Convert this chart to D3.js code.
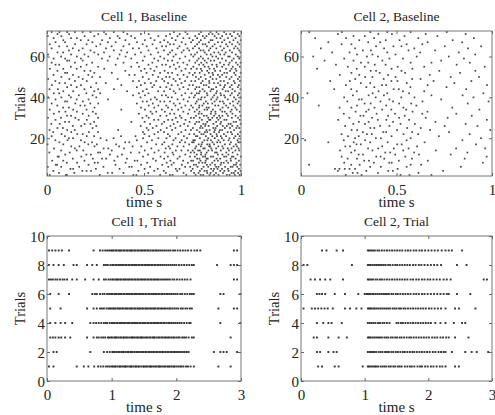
<!DOCTYPE html>
<html>
<head>
<meta charset="utf-8">
<script src="https://cdn.jsdelivr.net/npm/d3@7"></script>
<style>
  body { margin: 0; background: #fff; }
  text { font-family: "Liberation Serif", "Times New Roman", Times, serif; fill: #222; }
</style>
</head>
<body>
<svg id="chart" width="495" height="415"></svg>
<script>
// spike times, one string per trial
// baseline cells in ms, trial cells in units of 0.01 s
var cell1Baseline = [
    "14 97 103 272 445 461 583 634 647 718 766 792 805 838 861 884 927 941 968 993",
    "62 141 313 336 394 522 613 704 758 781 826 843 871 907 952 963 985",
    "33 182 204 227 471 553 602 671 743 788 812 824 857 893 914 936 971 998",
    "121 135 252 374 503 571 664 683 751 797 846 861 879 902 933 989",
    "4 73 166 291 424 437 532 625 712 738 776 807 831 872 884 918 947 956 981",
    "45 52 214 353 485 594 642 695 757 769 824 842 866 895 963 974 996",
    "102 155 246 262 405 516 617 653 726 783 801 815 852 898 911 934 977",
    "27 84 193 347 452 466 561 636 702 743 753 791 818 863 881 925 948 989",
    "133 236 284 305 412 547 604 673 774 786 822 829 874 893 946 972",
    "55 61 177 364 495 585 623 684 737 762 804 815 845 856 913 924 953 961 999",
    "94 203 226 324 386 521 652 713 772 794 817 881 904 935 982",
    "12 117 263 274 432 476 554 606 647 741 759 795 823 866 875 924 957",
    "73 153 187 334 504 575 664 693 727 751 779 788 832 851 896 938 971 991",
    "36 144 292 316 397 538 612 634 764 806 813 847 872 909 932 951 987",
    "125 167 245 372 441 486 627 672 704 769 793 836 841 883 904 962 979",
    "3 84 213 257 356 563 594 646 733 782 797 826 838 861 917 942 973",
    "64 194 232 403 424 516 605 685 712 748 756 801 853 877 893 948 986 995",
    "43 106 175 307 463 541 652 694 754 762 811 827 845 884 911 936 982",
    "113 134 276 343 495 574 616 663 722 788 831 865 902 941 964",
    "24 92 205 243 382 456 527 633 706 767 775 819 852 876 896 923 971 993",
    "75 156 184 502 554 623 677 734 758 796 807 843 874 912 954 984",
    "32 125 216 263 495 572 603 692 786 814 826 862 887 931 948 996",
    "13 104 143 367 523 586 645 714 742 773 822 838 865 891 903 964",
    "54 82 235 514 545 617 662 752 789 802 857 869 917 943 976 991",
    "133 176 254 483 564 636 687 726 794 815 833 877 906 927 955 982",
    "22 65 194 224 531 592 653 707 763 806 818 858 894 936 947 998",
    "93 114 243 435 503 604 673 735 771 784 826 872 897 962 975",
    "44 163 205 552 574 624 646 714 798 836 842 883 914 925 994",
    "5 72 146 263 492 524 664 693 742 757 787 831 852 876 893 953 985",
    "103 124 215 513 584 616 685 768 809 823 861 887 904 933 972 997",
    "35 184 252 474 543 634 656 727 782 797 844 869 926 956",
    "62 95 154 236 534 563 607 703 761 786 847 868 903 916 946 993",
    "14 135 204 383 505 592 644 676 734 773 812 826 855 893 952 978",
    "83 113 245 484 553 624 693 752 784 823 834 905 934 971",
    "53 172 195 524 574 615 662 713 743 785 801 867 883 924 961 996",
    "24 146 223 264 463 545 653 684 766 808 829 852 912 944 982",
    "93 104 185 493 515 584 605 634 726 772 819 864 891 906 958 989",
    "44 153 214 314 535 566 673 704 781 793 846 874 932 973",
    "6 74 123 254 482 556 624 643 734 757 797 813 854 879 918 964 997",
    "113 164 235 443 505 592 613 694 763 827 862 897 913 945 984",
    "35 63 203 274 474 523 662 713 745 772 783 824 872 894 953 991",
    "84 135 244 413 494 573 604 653 788 812 843 876 921 934 968",
    "13 56 193 264 345 514 634 683 727 764 802 848 857 905 956 997",
    "104 153 226 463 543 584 615 703 771 785 834 872 913 943 984",
    "25 124 175 383 484 552 643 674 734 752 808 821 893 917 952 989",
    "64 93 254 303 504 535 624 693 794 837 861 882 932 968",
    "43 144 205 443 474 563 604 663 712 744 764 802 836 895 912 963 995",
    "6 115 184 364 524 594 652 684 782 818 854 873 941 984",
    "74 163 233 273 494 573 614 632 723 768 793 842 891 924 951 992",
    "34 134 213 424 452 545 673 704 752 813 856 881 903 972",
    "93 104 244 334 513 583 624 645 734 762 787 834 853 914 928 965 998",
    "54 193 224 404 485 553 606 693 798 826 867 893 944 976",
    "15 84 153 295 503 534 664 714 743 772 793 838 861 923 951 972",
    "123 174 263 434 474 565 634 682 754 813 832 876 903 958 994",
    "44 63 204 354 523 594 613 654 723 784 806 851 874 912 936 983",
    "24 144 233 394 465 543 673 703 764 795 823 892 941 974 998",
    "104 115 184 313 494 573 623 645 734 774 813 844 862 922 953",
    "34 94 175 283 364 434 553 604 684 782 804 831 882 903 962 991",
    "73 154 213 323 405 503 584 652 713 754 793 853 872 934 942 983",
    "5 124 193 264 374 454 535 624 664 743 762 823 844 893 914 973",
    "54 83 244 294 413 484 573 634 694 774 813 862 884 921 954 997",
    "113 164 224 344 383 523 603 645 704 733 792 806 834 903 942 991",
    "24 133 184 304 443 474 564 673 724 752 784 842 873 912 964 983",
    "63 104 254 333 394 514 593 614 683 763 824 853 894 931 972",
    "14 145 204 275 424 493 544 634 653 714 774 803 816 864 923 954 992",
    "44 93 234 314 354 464 584 623 694 743 784 834 881 902 942 983",
    "84 174 213 284 404 504 554 604 663 752 793 844 853 914 961 998",
    "34 124 154 324 374 453 534 644 703 734 774 813 874 894 933 972",
    "4 74 194 244 364 434 574 614 673 764 803 822 864 903 953 991",
    "54 114 264 304 414 484 524 634 684 724 784 834 853 884 924 944 983",
    "24 64 104 144 184 224 294 344 394 654 714 794 843 874 913 964"
];

var cell2Baseline = [
    "234 317 521 568 683",
    "271 296 403 615",
    "193 342 457 481 744",
    "178 201 229 254 283 506",
    "362 418 553 837",
    "42 263 307 574 629",
    "226 381 462 475 952",
    "331 356 512 664",
    "244 293 436 581 857",
    "213 394 417 546 972",
    "302 325 493 618 784",
    "263 441 467 592 871",
    "204 282 374 535 706",
    "351 404 486 563 812 964",
    "232 257 425 608",
    "291 313 504 527 916",
    "143 276 362 454 647",
    "22 224 336 553 845",
    "283 392 418 574 942",
    "246 302 474 722",
    "212 345 371 537 614 883",
    "324 431 446 582 775",
    "265 294 503 676 991",
    "363 384 556 627",
    "231 414 463 752 924",
    "274 335 521 596 862",
    "303 354 482 704",
    "195 402 447 566 973",
    "253 372 514 653 768",
    "311 327 456 543 894",
    "224 396 492 635 813",
    "286 341 584 662",
    "354 425 473 551 934",
    "202 264 385 536 792",
    "93 293 446 604",
    "333 365 514 577 873",
    "243 416 482 636 982",
    "304 318 463 734",
    "226 391 525 594 903",
    "272 354 434 683 846",
    "34 375 452 566 955",
    "292 406 534 645",
    "174 263 485 512 865",
    "342 384 573 762",
    "235 424 446 663 974",
    "313 362 554 803",
    "153 256 473 505 694 892",
    "284 433 582 626",
    "336 374 495 784 932",
    "203 305 456 674",
    "264 412 545 833",
    "365 393 526 724 913",
    "84 292 474 583",
    "245 334 506 645 962",
    "183 386 443 815",
    "314 352 574 683 884",
    "123 275 426 734",
    "226 463 534 853",
    "64 345 403 606 774",
    "293 374 495 912",
    "163 254 452 624 826",
    "324 366 563 702",
    "104 283 435 593 874",
    "393 484 526 753 943",
    "213 264 553 635",
    "143 352 414 663 844",
    "305 444 516 794",
    "74 236 383 614 905",
    "275 334 542 714",
    "193 405 476 653 862",
    "43 214 363 452 574 763"
];

var cell1Trial = [
    "3 10 46 57 64 73 79 83 87 91 94 97 100 102 105 106 109 112 113 116 119 121 122 125 128 130 131 134 137 138 141 143 146 149 150 153 155 158 160 161 164 167 169 172 174 175 178 181 183 186 188 190 193 196 197 200 203 206 208 211 215 218 222 227 265 284",
    "10 15 67 88 93 97 101 103 104 107 110 112 115 117 118 121 124 126 129 131 132 135 138 140 142 145 147 149 152 154 157 158 161 164 166 169 171 174 176 179 180 183 186 188 191 193 196 198 201 204 207 210 213 216 219 258 268 273 278 294",
    "5 9 13 18 22 28 36 62 72 77 80 84 87 90 94 96 99 101 104 106 107 110 113 115 118 119 122 124 127 130 132 133 136 139 141 144 146 147 150 153 155 158 160 163 165 166 169 172 174 177 179 182 184 187 189 192 195 197 200 203 205 209 212 215 219 224 227 284",
    "5 13 21 28 39 67 72 76 80 84 88 91 93 97 100 102 104 107 109 112 114 116 119 121 124 126 128 131 133 136 138 140 143 145 148 150 152 155 157 160 162 165 167 170 172 175 177 180 182 185 188 190 193 196 199 202 205 208 212 216 220 222 268 299",
    "5 21 62 72 77 82 85 88 92 95 97 99 102 104 106 109 111 113 116 118 121 123 125 128 130 132 135 137 140 142 144 147 149 152 154 156 159 161 164 166 168 171 173 176 178 181 183 186 189 191 194 197 200 203 207 210 214 217 221 224 265 289 294",
    "5 18 34 70 74 77 82 86 89 93 96 99 101 104 106 108 111 113 115 118 120 123 125 127 130 132 135 137 139 142 144 147 149 152 154 157 159 162 164 167 169 172 174 177 179 182 185 187 190 193 196 199 202 206 209 213 217 221 224 227 268 273 299",
    "3 6 9 13 16 20 24 27 31 39 46 59 72 80 88 91 95 98 101 103 106 108 110 113 115 118 120 122 125 127 130 132 135 137 140 142 145 147 150 152 155 157 160 162 165 167 170 172 175 178 181 184 187 190 194 197 201 205 209 213 217 222 289 294",
    "3 10 18 26 41 46 62 70 77 88 91 94 98 101 103 106 108 111 113 116 118 121 123 126 128 131 133 136 138 141 143 146 148 151 153 156 158 161 163 166 168 171 173 176 179 182 185 188 191 194 197 200 204 208 212 216 220 224 227 263 284 289 294",
    "3 8 13 18 23 34 72 82 86 90 93 96 99 101 103 106 108 111 113 115 118 120 123 125 128 130 132 135 137 140 142 145 147 150 152 155 157 160 163 165 168 170 173 176 179 182 185 188 191 195 198 202 206 210 214 218 223 228 232 237 289 294"
];

var cell2Trial = [
    "27 33 53 59 97 105 107 110 113 116 118 121 125 128 131 134 138 141 145 148 152 155 158 163 167 171 174 178 183 187 190 195 199 204 208 213 218 222 227 242 248",
    "25 30 43 51 56 105 108 110 113 115 118 122 125 128 132 135 138 142 145 149 152 156 160 163 167 171 175 178 182 186 190 194 198 202 207 211 216 220 224 227 237 258 268 276 294",
    "20 25 43 59 72 105 107 109 112 115 118 121 124 127 131 134 137 141 144 148 151 155 158 162 166 170 173 177 181 185 189 193 197 201 206 210 214 219 223 228 232 242 263",
    "25 35 43 48 64 105 108 111 114 117 121 124 128 131 135 139 150 153 157 160 164 168 172 176 180 184 188 192 196 200 204 211 219 227 240 253 258",
    "4 17 22 27 32 37 42 50 69 77 87 95 105 107 109 111 114 116 119 122 125 128 131 134 137 140 144 147 150 154 157 161 164 168 172 176 180 184 188 192 196 201 205 210 215 220 227 242 248 274",
    "25 29 33 38 53 69 90 100 103 105 107 109 112 114 117 120 123 126 129 132 135 138 142 145 149 152 156 160 164 168 172 177 181 185 190 194 199 204 209 214 219 224 229 232 245 266",
    "15 22 30 38 46 66 105 107 110 113 117 120 124 127 131 135 139 143 147 151 155 159 163 167 172 176 181 185 190 194 199 203 208 213 218 224 229 235 287 292",
    "4 10 80 105 107 109 112 115 118 121 124 127 130 133 137 140 144 148 151 155 159 163 167 171 176 180 185 189 194 199 204 209 214 220 245 260",
    "33 40 56 66 105 107 110 113 116 120 123 127 131 135 139 143 147 151 155 159 164 168 172 177 181 186 190 195 200 205 210 215 221 227 232 237 253"
];

var panelTitles = ["Cell 1, Baseline", "Cell 2, Baseline", "Cell 1, Trial", "Cell 2, Trial"];
var baselineTicksX = [0, 0.5, 1];
var baselineTicksY = [20, 40, 60];
var trialTicksX = [0, 1, 2, 3];
var trialTicksY = [0, 2, 4, 6, 8, 10];
var xLabel = "time s";
var yLabel = "Trials";

var svg = d3.select("#chart");

var boxes = [
    {x0: 47, x1: 241, y0: 31, y1: 176},
    {x0: 301, x1: 492, y0: 31, y1: 176},
    {x0: 47, x1: 241, y0: 236, y1: 381},
    {x0: 301, x1: 492, y0: 236, y1: 381}
];

var panels = [
    {rows: cell1Baseline, unit: 0.001, first: 2, xDomain: [0, 1], yDomain: [1.5, 72.5], xTicks: baselineTicksX, yTicks: baselineTicksY, dot: 1.7, fill: "#484848"},
    {rows: cell2Baseline, unit: 0.001, first: 2, xDomain: [0, 1], yDomain: [1.5, 72.5], xTicks: baselineTicksX, yTicks: baselineTicksY, dot: 1.7, fill: "#484848"},
    {rows: cell1Trial, unit: 0.01, first: 1, xDomain: [0, 3], yDomain: [0, 10], xTicks: trialTicksX, yTicks: trialTicksY, dot: 1.9, fill: "#333"},
    {rows: cell2Trial, unit: 0.01, first: 1, xDomain: [0, 3], yDomain: [0, 10], xTicks: trialTicksX, yTicks: trialTicksY, dot: 1.9, fill: "#333"}
];

function styleAxis(g) {
    g.attr("font-family", null).attr("font-size", null);
    g.select(".domain").remove();
    g.selectAll(".tick line").attr("stroke", "#666");
}

panels.forEach(function(p, k) {
    var b = boxes[k];
    var x = d3.scaleLinear().domain(p.xDomain).range([b.x0, b.x1]);
    var y = d3.scaleLinear().domain(p.yDomain).range([b.y1, b.y0]);
    var g = svg.append("g");

    var spikes = [];
    p.rows.forEach(function(r, i) {
        r.split(" ").forEach(function(s) {
            spikes.push({t: +s * p.unit, trial: p.first + i});
        });
    });

    g.selectAll("rect.spike")
        .data(spikes)
        .enter().append("rect")
        .attr("class", "spike")
        .attr("x", function(d) { return x(d.t) - p.dot / 2; })
        .attr("y", function(d) { return y(d.trial) - p.dot / 2; })
        .attr("width", p.dot)
        .attr("height", p.dot)
        .attr("fill", p.fill);

    // box
    g.append("rect")
        .attr("x", b.x0).attr("y", b.y0)
        .attr("width", b.x1 - b.x0).attr("height", b.y1 - b.y0)
        .attr("fill", "none").attr("stroke", "#777").attr("stroke-width", 1);

    var fmt = d3.format("~g");

    g.append("g")
        .attr("transform", "translate(0," + b.y1 + ")")
        .call(d3.axisBottom(x).tickValues(p.xTicks).tickSize(-3).tickFormat(fmt))
        .call(styleAxis)
        .selectAll("text").attr("y", 19).attr("dy", null).style("font-size", "15px");

    g.append("g")
        .attr("transform", "translate(0," + b.y0 + ")")
        .call(d3.axisTop(x).tickValues(p.xTicks).tickSize(-3).tickFormat(""))
        .call(styleAxis);

    g.append("g")
        .attr("transform", "translate(" + b.x0 + ",0)")
        .call(d3.axisLeft(y).tickValues(p.yTicks).tickSize(-3).tickFormat(fmt))
        .call(styleAxis)
        .selectAll("text").attr("x", -2).attr("dy", "0.35em").style("font-size", "15px");

    g.append("g")
        .attr("transform", "translate(" + b.x1 + ",0)")
        .call(d3.axisRight(y).tickValues(p.yTicks).tickSize(-3).tickFormat(""))
        .call(styleAxis);

    g.append("text")
        .attr("x", (b.x0 + b.x1) / 2)
        .attr("y", b.y0 - 10)
        .attr("text-anchor", "middle")
        .style("font-size", "13.5px")
        .text(panelTitles[k]);

    g.append("text")
        .attr("x", (b.x0 + b.x1) / 2)
        .attr("y", b.y1 + 31)
        .attr("text-anchor", "middle")
        .style("font-size", "15px")
        .text(xLabel);

    g.append("text")
        .attr("transform", "translate(" + (b.x0 - 22) + "," + ((b.y0 + b.y1) / 2) + ") rotate(-90)")
        .attr("text-anchor", "middle")
        .style("font-size", "14.5px")
        .text(yLabel);
});
</script>
</body>
</html>
